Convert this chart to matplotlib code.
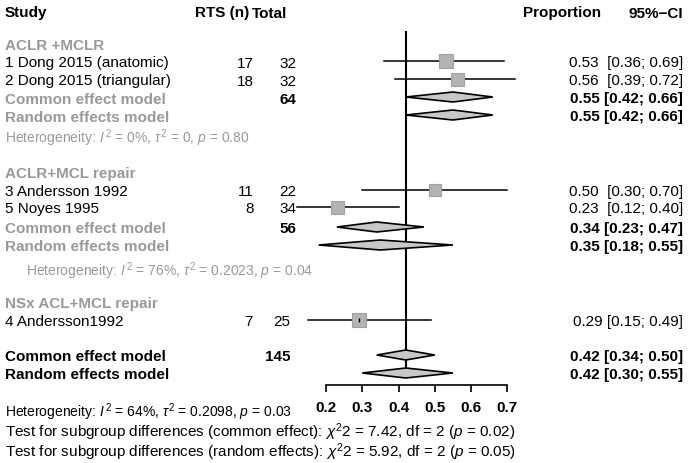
import matplotlib
matplotlib.use("Agg")
import matplotlib.pyplot as plt

# ---------------- data ----------------
group_names = ["ACLR +MCLR", "ACLR+MCL repair", "NSx ACL+MCL repair"]
study_labels = ["1 Dong 2015 (anatomic)", "2 Dong 2015 (triangular)",
                "3 Andersson 1992", "5 Noyes 1995", "4 Andersson1992"]
study_group = [0, 0, 1, 1, 2]
events = [17, 18, 11, 8, 7]
totals = [32, 32, 22, 34, 25]
prop = [0.53, 0.56, 0.50, 0.23, 0.29]
ci_low = [0.36, 0.39, 0.30, 0.12, 0.15]
ci_high = [0.69, 0.72, 0.70, 0.40, 0.49]

group_total = [64, 56]
group_common = [(0.55, 0.42, 0.66), (0.34, 0.23, 0.47)]
group_random = [(0.55, 0.42, 0.66), (0.35, 0.18, 0.55)]
group_het = [r"Heterogeneity: $I^{\,2}$ = 0%, $\tau^2$ = 0, $p$ = 0.80",
             r"Heterogeneity: $I^{\,2}$ = 76%, $\tau^2$ = 0.2023, $p$ = 0.04"]

overall_total = 145
overall_common = (0.42, 0.34, 0.50)
overall_random = (0.42, 0.30, 0.55)
overall_het = r"Heterogeneity: $I^{\,2}$ = 64%, $\tau^2$ = 0.2098, $p$ = 0.03"
test_common = r"Test for subgroup differences (common effect): $\chi^2$2 = 7.42, df = 2 ($p$ = 0.02)"
test_random = r"Test for subgroup differences (random effects): $\chi^2$2 = 5.92, df = 2 ($p$ = 0.05)"
ref_value = 0.42
xticks = [0.2, 0.3, 0.4, 0.5, 0.6, 0.7]

# ---------------- style ----------------
plt.rcParams["font.family"] = ["Liberation Sans", "DejaVu Sans"]
plt.rcParams["mathtext.fontset"] = "custom"
plt.rcParams["mathtext.rm"] = "Liberation Sans"
plt.rcParams["mathtext.it"] = "Liberation Sans:italic"
plt.rcParams["mathtext.bf"] = "Liberation Sans:bold"
plt.rcParams["mathtext.sf"] = "Liberation Sans"
FS = 11
FS_HET = 10
GRAY = "#999999"
SQ_FILL = "#b3b3b3"
SQ_EDGE = "#a0a0a0"
DIA_FILL = "#c8c8c8"
sq_size_px = [14, 13, 12, 13, 14]

W, H = 688, 464
fig = plt.figure(figsize=(W / 100, H / 100), dpi=100)
axt = fig.add_axes([0, 0, 1, 1])
axt.set_xlim(0, W)
axt.set_ylim(H, 0)
axt.axis("off")

# forest axes: pixel mapping 0.2 -> 326 px, 0.7 -> 507.3 px
px02, px07 = 326.0, 507.3
ppu = (px07 - px02) / 0.5
fx0, fx1 = 250, 540
axis_y = 386
axf = fig.add_axes([fx0 / W, (H - axis_y) / H, (fx1 - fx0) / W, axis_y / H])
axf.set_xlim(0.2 + (fx0 - px02) / ppu, 0.2 + (fx1 - px02) / ppu)
axf.set_ylim(axis_y, 0)
axf.patch.set_visible(False)
for s in ["top", "left", "right"]:
    axf.spines[s].set_visible(False)
axf.spines["bottom"].set_bounds(xticks[0], xticks[-1])
axf.spines["bottom"].set_linewidth(1.2)
axf.set_yticks([])
axf.set_xticks(xticks)
axf.set_xticklabels([f"{t:.1f}" for t in xticks], fontweight="bold", fontsize=FS)
axf.tick_params(axis="x", direction="out", length=5.2, width=1.2, pad=5.5)

# ---------------- layout rows (pixel y) ----------------
X_LABEL, X_EV, X_TOT, X_VAL = 5, 254, 296, 683
study_y = [62, 80, 191, 208, 321]
group_head_y = [44, 173, 303]
group_common_y = [98, 228]
group_random_y = [116, 246]
group_het_y = [135, 268]
group_het_x = [5, 26]
overall_common_y, overall_random_y = 356, 374
bottom_y = [409, 429, 449]

def txt(x, y, s, ha="left", bold=False, color="black", fs=FS):
    axt.text(x, y, s, ha=ha, va="center_baseline", fontsize=fs,
             fontweight="bold" if bold else "normal", color=color)

def diamond(est, lo, hi, y, h=5):
    axf.fill([lo, est, hi, est, lo], [y, y - h, y, y + h, y],
             facecolor=DIA_FILL, edgecolor="black", linewidth=1.2, zorder=3)

# headers
txt(X_LABEL, 12, "Study", bold=True)
txt(195, 12, "RTS (n)", bold=True)
txt(252, 12, "Total", bold=True)
txt(523, 12, "Proportion", bold=True)
txt(X_VAL, 12, "95%\u2212CI", ha="right", bold=True)

# reference line
axf.plot([ref_value, ref_value], [33, 372], color="black", lw=1.5, zorder=2)

# group headings
for g, name in enumerate(group_names):
    txt(X_LABEL, group_head_y[g], name, bold=True, color=GRAY)

# studies
for i, lab in enumerate(study_labels):
    y = study_y[i]
    single = study_group[i] == 2
    txt(X_LABEL, y, lab)
    txt(X_EV - (1 if single else 0), y, str(events[i]), ha="right")
    txt(X_TOT - (6 if single else 0), y, str(totals[i]), ha="right")
    sep = " " if single else "  "
    txt(X_VAL, y, f"{prop[i]:.2f}{sep}[{ci_low[i]:.2f}; {ci_high[i]:.2f}]", ha="right")
    axf.plot([ci_low[i], ci_high[i]], [y, y], color="black", lw=1.1, zorder=4)
    axf.plot([prop[i]], [y], marker="s", markersize=sq_size_px[i] * 0.72,
             markerfacecolor=SQ_FILL, markeredgecolor=SQ_EDGE, markeredgewidth=0.8,
             linestyle="none", zorder=5)
    if single:
        axf.plot([prop[i]], [y], marker="|", markersize=3, color="black", zorder=6)

# subgroup summaries
for g in range(len(group_total)):
    yc, yr = group_common_y[g], group_random_y[g]
    txt(X_LABEL, yc, "Common effect model", bold=True, color=GRAY)
    txt(X_LABEL, yr, "Random effects model", bold=True, color=GRAY)
    txt(X_TOT, yc, str(group_total[g]), ha="right", bold=True)
    e, lo, hi = group_common[g]
    txt(X_VAL, yc, f"{e:.2f} [{lo:.2f}; {hi:.2f}]", ha="right", bold=True)
    diamond(e, lo, hi, yc)
    e, lo, hi = group_random[g]
    txt(X_VAL, yr, f"{e:.2f} [{lo:.2f}; {hi:.2f}]", ha="right", bold=True)
    diamond(e, lo, hi, yr)
    txt(group_het_x[g], group_het_y[g], group_het[g], color=GRAY, fs=FS_HET)

# overall
txt(X_LABEL, overall_common_y, "Common effect model", bold=True)
txt(X_LABEL, overall_random_y, "Random effects model", bold=True)
txt(X_TOT - 6, overall_common_y, str(overall_total), ha="right", bold=True)
e, lo, hi = overall_common
txt(X_VAL, overall_common_y, f"{e:.2f} [{lo:.2f}; {hi:.2f}]", ha="right", bold=True)
diamond(e, lo, hi, overall_common_y)
e, lo, hi = overall_random
txt(X_VAL, overall_random_y, f"{e:.2f} [{lo:.2f}; {hi:.2f}]", ha="right", bold=True)
diamond(e, lo, hi, overall_random_y)

txt(X_LABEL, bottom_y[0], overall_het, fs=FS_HET)
txt(X_LABEL, bottom_y[1], test_common)
txt(X_LABEL, bottom_y[2], test_random)

fig.savefig("out.png", dpi=100)
